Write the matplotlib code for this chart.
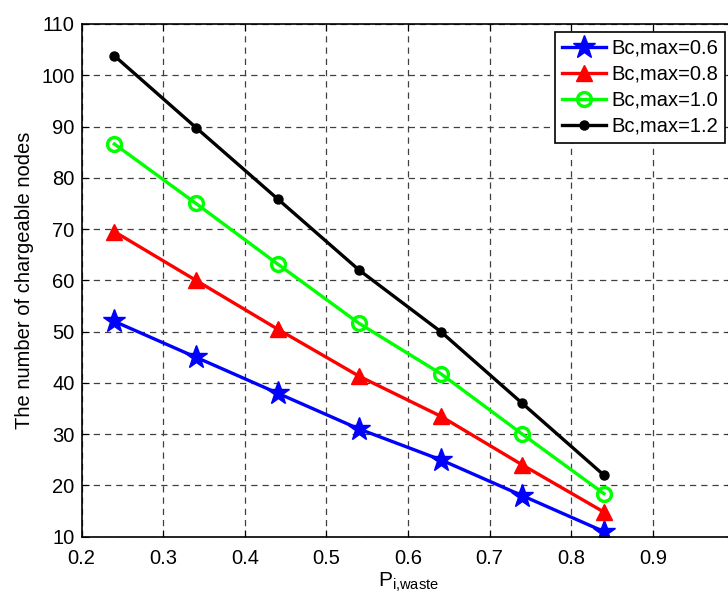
import matplotlib
matplotlib.use("Agg")
import matplotlib.pyplot as plt

plt.rcParams['font.family'] = ['Liberation Sans', 'DejaVu Sans']

p_waste = [0.24, 0.34, 0.44, 0.54, 0.64, 0.74, 0.84]
bc_06 = [52, 45, 38, 31, 25, 18, 11]
bc_08 = [69.5, 60, 50.5, 41.3, 33.5, 24, 14.8]
bc_10 = [86.6, 75, 63.2, 51.6, 41.8, 30, 18.4]
bc_12 = [103.8, 89.8, 75.9, 62, 50, 36, 22]
labels = ['Bc,max=0.6', 'Bc,max=0.8', 'Bc,max=1.0', 'Bc,max=1.2']

fig = plt.figure(figsize=(7.28, 5.95), dpi=100)
# right edge (x=1.0) falls just outside the picture, as in the original
ax = fig.add_axes([0.1122, 0.098, 0.8967, 0.8617])

ax.plot(p_waste, bc_06, color='blue', lw=2.4, marker='*', ms=17, label=labels[0])
ax.plot(p_waste, bc_08, color='red', lw=2.4, marker='^', ms=12, label=labels[1])
ax.plot(p_waste, bc_10, color='#00ff00', lw=2.4, marker='o', ms=10,
        mfc='none', mew=2.4, label=labels[2])
ax.plot(p_waste, bc_12, color='black', lw=2.4, marker='o', ms=6.5, label=labels[3])

ax.set_xlim(0.2, 1.0)
ax.set_ylim(10, 110)
ax.set_xticks([0.2, 0.3, 0.4, 0.5, 0.6, 0.7, 0.8, 0.9, 1.0])
ax.set_xticklabels(['0.2', '0.3', '0.4', '0.5', '0.6', '0.7', '0.8', '0.9', ''])
ax.set_yticks(range(10, 111, 10))
ax.tick_params(direction='in', top=True, right=True, labelsize=14.5, length=5)
ax.tick_params(axis='x', pad=9)
ax.tick_params(axis='y', pad=5)
ax.grid(True, color='0.25', linestyle=(0, (5, 4)), lw=0.9)
for s in ax.spines.values():
    s.set_linewidth(1.2)

ax.set_xlabel(r'$\mathregular{P_{i{,}waste}}$', fontsize=15, labelpad=2)
ax.set_ylabel('The number of chargeable nodes', fontsize=14.5, labelpad=5)

leg = ax.legend(loc='upper right', bbox_to_anchor=(0.9959, 0.9467),
                bbox_transform=fig.transFigure, borderaxespad=0, fontsize=14.5,
                fancybox=False, edgecolor='black', framealpha=1,
                handlelength=2.2, handletextpad=0.25, labelspacing=0.35,
                borderpad=0.35)
leg.get_frame().set_linewidth(1.2)

fig.savefig("out.png", dpi=100)
